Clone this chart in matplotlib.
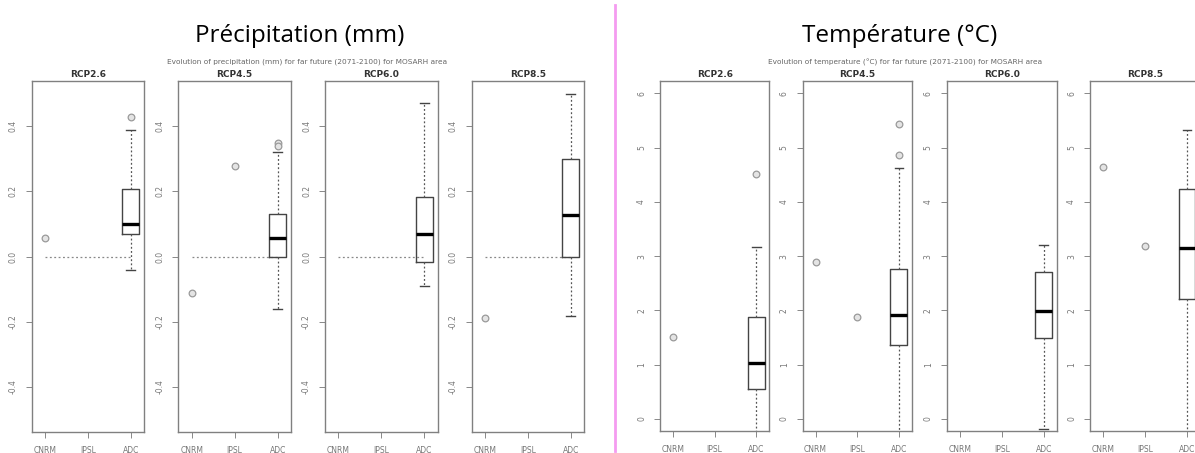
import numpy as np
import matplotlib
matplotlib.use("Agg")
import matplotlib.pyplot as plt

W, H = 1195, 453
nan = np.nan

scenarios = ["RCP2.6", "RCP4.5", "RCP6.0", "RCP8.5"]
models = ["CNRM", "IPSL", "ADC"]

# Precipitation (mm)
pr_cnrm = [0.058, -0.113, nan, -0.19]
pr_ipsl = [nan, 0.279, nan, nan]
pr_q1 = [0.069, 0.0, -0.018, 0.0]
pr_med = [0.100, 0.058, 0.069, 0.128]
pr_q3 = [0.207, 0.130, 0.184, 0.300]
pr_lo = [-0.042, -0.160, -0.092, -0.182]
pr_hi = [0.390, 0.320, 0.470, 0.500]
pr_out = [[0.430], [0.348, 0.340], [], []]
pr_ticks = [-0.4, -0.2, 0.0, 0.2, 0.4]
pr_ticklabels = ["-0.4", "-0.2", "0.0", "0.2", "0.4"]

# Temperature (°C)
tp_cnrm = [1.52, 2.89, nan, 4.65]
tp_ipsl = [nan, 1.88, nan, 3.19]
tp_q1 = [0.55, 1.36, 1.49, 2.21]
tp_med = [1.03, 1.92, 1.99, 3.15]
tp_q3 = [1.88, 2.76, 2.70, 4.23]
tp_lo = [-0.40, -0.40, -0.19, -0.40]
tp_hi = [3.17, 4.62, 3.20, 5.32]
tp_out = [[4.52], [5.43, 4.87], [], []]
tp_ticks = [0, 1, 2, 3, 4, 5, 6]
tp_ticklabels = ["0", "1", "2", "3", "4", "5", "6"]

fig = plt.figure(figsize=(W / 100, H / 100), dpi=100)

def px_axes(x0, x1, y0, y1):
    return fig.add_axes([x0 / W, 1 - y1 / H, (x1 - x0) / W, (y1 - y0) / H])

GRAY = "#808080"
MK = dict(marker="o", markersize=4.8, markerfacecolor="#e4e4e4",
          markeredgecolor="#9a9a9a", markeredgewidth=0.9)

def panel(ax, i, cnrm, ipsl, q1, med, q3, lo, hi, out, ylim, ticks, tlabels, zero_line):
    stats = [dict(q1=q1[i], med=med[i], q3=q3[i], whislo=lo[i], whishi=hi[i], fliers=out[i])]
    ax.bxp(stats, positions=[3], widths=0.4, patch_artist=False,
           boxprops=dict(color="#444444", linewidth=1.0),
           medianprops=dict(color="black", linewidth=2.4),
           whiskerprops=dict(color="#555555", linewidth=0.9, linestyle=(0, (1.5, 1.8))),
           capprops=dict(color="#444444", linewidth=1.0),
           flierprops=dict(MK, linestyle="none"))
    if zero_line:
        ax.plot([1, 3], [0, 0], color="#888888", linewidth=0.9, linestyle=(0, (1.5, 2)), zorder=1)
    for pos, vals in ((1, cnrm), (2, ipsl)):
        if not np.isnan(vals[i]):
            ax.plot([pos], [vals[i]], linestyle="none", **MK)
    ax.set_xlim(0.69, 3.31)
    ax.set_ylim(*ylim)
    ax.set_xticks([1, 2, 3])
    ax.set_xticklabels(models, fontsize=5.5, color="#777777")
    ax.set_yticks(ticks)
    ax.set_yticklabels(tlabels, fontsize=5.5, color="#777777", rotation=90, va="center")
    ax.tick_params(axis="both", length=4, width=0.7, color="#888888", pad=6)
    for s in ax.spines.values():
        s.set_color(GRAY)
        s.set_linewidth(1.0)
    ax.set_title(scenarios[i], fontsize=6.5, fontweight="bold", color="#333333", pad=3)

pr_x = [(31.7, 144), (178.3, 291), (325, 437.7), (471.7, 584)]
tp_x = [(660, 769.3), (802.7, 911.7), (946.7, 1056.7), (1090, 1200)]

for i, (x0, x1) in enumerate(pr_x):
    ax = px_axes(x0, x1, 80.7, 432.3)
    panel(ax, i, pr_cnrm, pr_ipsl, pr_q1, pr_med, pr_q3, pr_lo, pr_hi, pr_out,
          (-0.54, 0.54), pr_ticks, pr_ticklabels, True)

for i, (x0, x1) in enumerate(tp_x):
    ax = px_axes(x0, x1, 80.7, 431)
    panel(ax, i, tp_cnrm, tp_ipsl, tp_q1, tp_med, tp_q3, tp_lo, tp_hi, tp_out,
          (-0.22, 6.23), tp_ticks, tp_ticklabels, False)

fig.text(300 / W, 1 - 36 / H, "Précipitation (mm)", fontsize=17.5, family="Open Sans",
         ha="center", va="center", color="black")
fig.text(900 / W, 1 - 36 / H, "Température (°C)", fontsize=17.5, family="Open Sans",
         ha="center", va="center", color="black")
fig.text(307 / W, 1 - 62 / H,
         "Evolution of precipitation (mm) for far future (2071-2100) for MOSARH area",
         fontsize=5.3, ha="center", va="center", color="#666666")
fig.text(905 / W, 1 - 62 / H,
         "Evolution of temperature (°C) for far future (2071-2100) for MOSARH area",
         fontsize=5.3, ha="center", va="center", color="#666666")

fig.add_artist(plt.Line2D([615 / W, 615 / W], [1 - 451 / H, 1 - 5 / H],
                          transform=fig.transFigure, color="#F49CF0", linewidth=2))

fig.savefig("out.png", dpi=100)
